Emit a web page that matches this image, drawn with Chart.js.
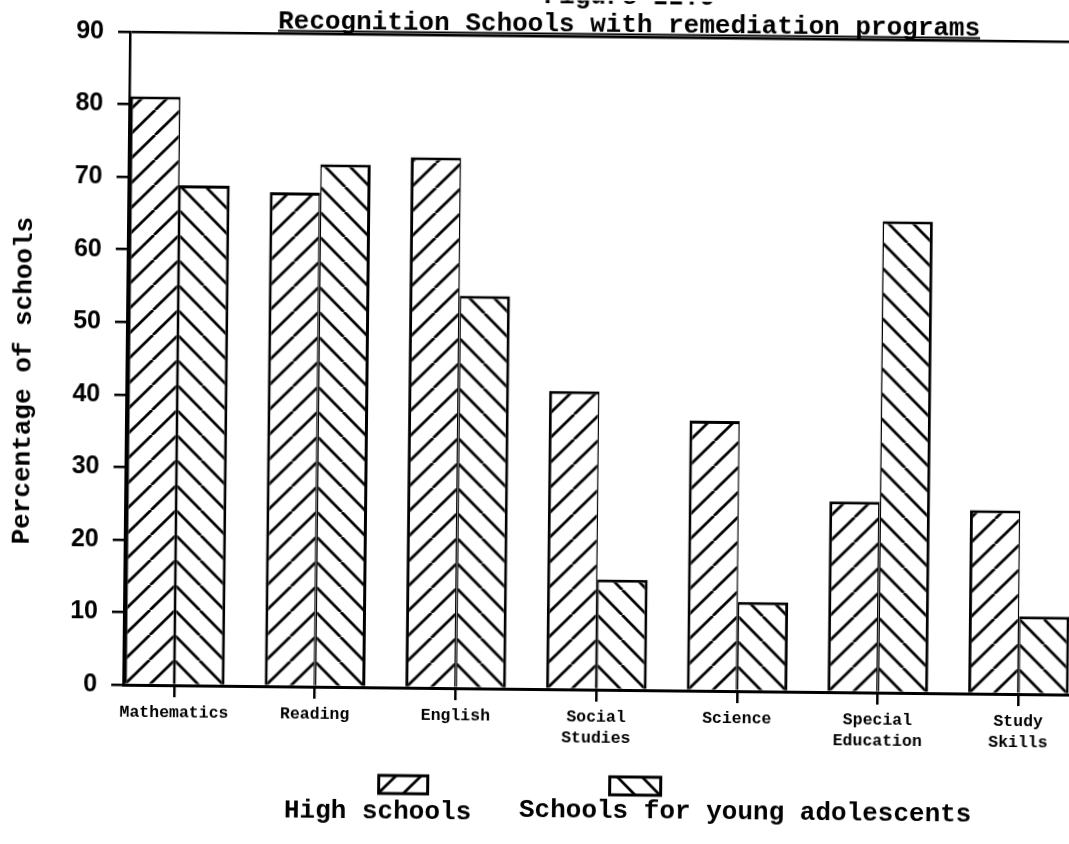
<!DOCTYPE html>
<html><head><meta charset="utf-8">
<script src="https://cdn.jsdelivr.net/npm/chart.js@4.4.1/dist/chart.umd.min.js"></script>
<style>
html,body{margin:0;padding:0;background:#fff;overflow:hidden;width:1069px;height:844px;}
#wrap{position:absolute;left:0;top:0;width:1250px;height:844px;transform:rotate(0.6deg);transform-origin:534.5px 422px;}
canvas{display:block;}
</style></head><body>
<div id="wrap"><canvas id="c" width="1250" height="844"></canvas></div>
<script>
const figureLabel = 'Figure II.9';
const chartTitle = 'Recognition Schools with remediation programs';
const categories = [['Mathematics'], ['Reading'], ['English'], ['Social', 'Studies'], ['Science'], ['Special', 'Education'], ['Study', 'Skills']];
const seriesNames = ['High schools', 'Schools for young adolescents'];
const highSchools = [81.1, 68.1, 73.1, 41.1, 37.2, 26.3, 25.3];
const youngAdolescents = [68.9, 72.0, 54.1, 15.2, 12.3, 65.0, 10.7];
const yTicks = [0, 10, 20, 30, 40, 50, 60, 70, 80, 90];
const yAxisTitle = 'Percentage of schools';

const patternCache = {};
function makePattern(ctx2d, dir, ox, oy) {
  const key = dir + '|' + ox.toFixed(2) + '|' + oy.toFixed(2);
  if (patternCache[key]) return patternCache[key];
  const s = 25;
  const c = document.createElement('canvas'); c.width = s; c.height = s;
  const g = c.getContext('2d');
  g.fillStyle = '#fff'; g.fillRect(0, 0, s, s);
  g.strokeStyle = '#000'; g.lineWidth = 2.8;
  g.beginPath();
  for (let k = -1; k <= 1; k++) {
    if (dir === '/') { g.moveTo(k * s, s); g.lineTo(k * s + s, 0); }
    else { g.moveTo(k * s, 0); g.lineTo(k * s + s, s); }
  }
  g.stroke();
  const p = ctx2d.createPattern(c, 'repeat');
  p.setTransform(new DOMMatrix().translate(ox, oy));
  patternCache[key] = p;
  return p;
}
function barPattern(dir) {
  return (ctx) => {
    const chart = ctx.chart;
    const xs = chart.scales.x, ys = chart.scales.y;
    if (!xs || !ys || ctx.dataIndex === undefined) return 'rgba(0,0,0,0)';
    return makePattern(chart.ctx, dir, xs.getPixelForValue(ctx.dataIndex), ys.getPixelForValue(0));
  };
}

const titleUnderline = {
  id: 'titleUnderline',
  afterDraw(chart) {
    const ctx = chart.ctx;
    ctx.save();
    ctx.font = 'bold 26px "Liberation Mono"';
    const w = ctx.measureText(chartTitle).width;
    const cx = chart.width / 2;
    ctx.strokeStyle = '#000'; ctx.lineWidth = 2;
    ctx.beginPath(); ctx.moveTo(cx - w / 2, 33.5); ctx.lineTo(cx + w / 2, 33.5); ctx.stroke();
    ctx.restore();
  }
};

const patternLegend = {
  id: 'patternLegend',
  afterDraw(chart) {
    const ctx = chart.ctx;
    const items = [
      { dir: '/', box: [382.5, 777, 49, 18], text: [288, 819.5] },
      { dir: '\\', box: [613.5, 776, 51, 18], text: [523, 816.5] }
    ];
    ctx.save();
    items.forEach((it, i) => {
      const [bx, by, bw, bh] = it.box;
      ctx.fillStyle = makePattern(ctx, it.dir, bx + bw / 2, by + bh);
      ctx.fillRect(bx, by, bw, bh);
      ctx.strokeStyle = '#000'; ctx.lineWidth = 3;
      ctx.strokeRect(bx, by, bw, bh);
      ctx.fillStyle = '#000';
      ctx.font = 'bold 26px "Liberation Mono"';
      ctx.textBaseline = 'alphabetic';
      ctx.textAlign = 'left';
      ctx.fillText(chart.data.datasets[i].label, it.text[0], it.text[1]);
    });
    ctx.restore();
  }
};

new Chart(document.getElementById('c'), {
  type: 'bar',
  data: {
    datasets: [
      {
        label: seriesNames[0],
        data: highSchools.map((v, i) => ({ x: i, y: v })),
        backgroundColor: barPattern('/'),
        borderColor: '#000',
        borderWidth: { top: 3, left: 3, right: 1.5, bottom: 0 },
        categoryPercentage: 0.715, barPercentage: 1
      },
      {
        label: seriesNames[1],
        data: youngAdolescents.map((v, i) => ({ x: i, y: v })),
        backgroundColor: barPattern('\\'),
        borderColor: '#000',
        borderWidth: { top: 3, left: 1.5, right: 3, bottom: 0 },
        categoryPercentage: 0.715, barPercentage: 1
      }
    ]
  },
  options: {
    responsive: false, animation: false, devicePixelRatio: 1,
    layout: { padding: { top: 0, left: 0, right: 0, bottom: 85 } },
    plugins: {
      legend: { display: false },
      tooltip: { enabled: false },
      title: {
        display: true, text: [figureLabel, chartTitle], color: '#000',
        font: { family: 'Liberation Mono', weight: 'bold', size: 26, lineHeight: 28 / 26 },
        padding: { top: -18, bottom: -2 }
      }
    },
    scales: {
      x: {
        type: 'linear', min: -0.3625, max: 7.626, offset: false,
        afterBuildTicks: (s) => { s.ticks = categories.map((c, i) => ({ value: i })); },
        afterFit: (s) => { s.height = 70; },
        ticks: {
          callback: (v) => categories[v], autoSkip: false, maxRotation: 0, minRotation: 0, padding: 5,
          color: '#000', font: { family: 'Liberation Mono', weight: 'bold', size: 16.5, lineHeight: 1.27 }
        },
        grid: { offset: false, drawOnChartArea: false, drawTicks: true, tickLength: 12, tickColor: '#000', tickWidth: 2.5, color: '#000', lineWidth: 2.5 },
        border: { display: true, color: '#000', width: 3 }
      },
      y: {
        min: 0, max: 90,
        afterBuildTicks: (s) => { s.ticks = yTicks.map(v => ({ value: v })); },
        afterFit: (s) => { s.width = 126; },
        ticks: { color: '#000', padding: 14, font: { family: 'Liberation Sans', weight: 'bold', size: 25 } },
        grid: {
          color: (c) => (c.tick && c.tick.value === 90 ? '#000' : 'rgba(0,0,0,0)'),
          lineWidth: 2.5, tickColor: '#000', tickLength: 12, tickWidth: 2.5, drawTicks: true
        },
        border: { display: true, color: '#000', width: 2.5 },
        title: {
          display: true, text: yAxisTitle + '   ', color: '#000',
          font: { family: 'Liberation Mono', weight: 'bold', size: 26 },
          padding: { top: 8, bottom: 0 }
        }
      }
    }
  },
  plugins: [titleUnderline, patternLegend]
});
</script>
</body></html>
